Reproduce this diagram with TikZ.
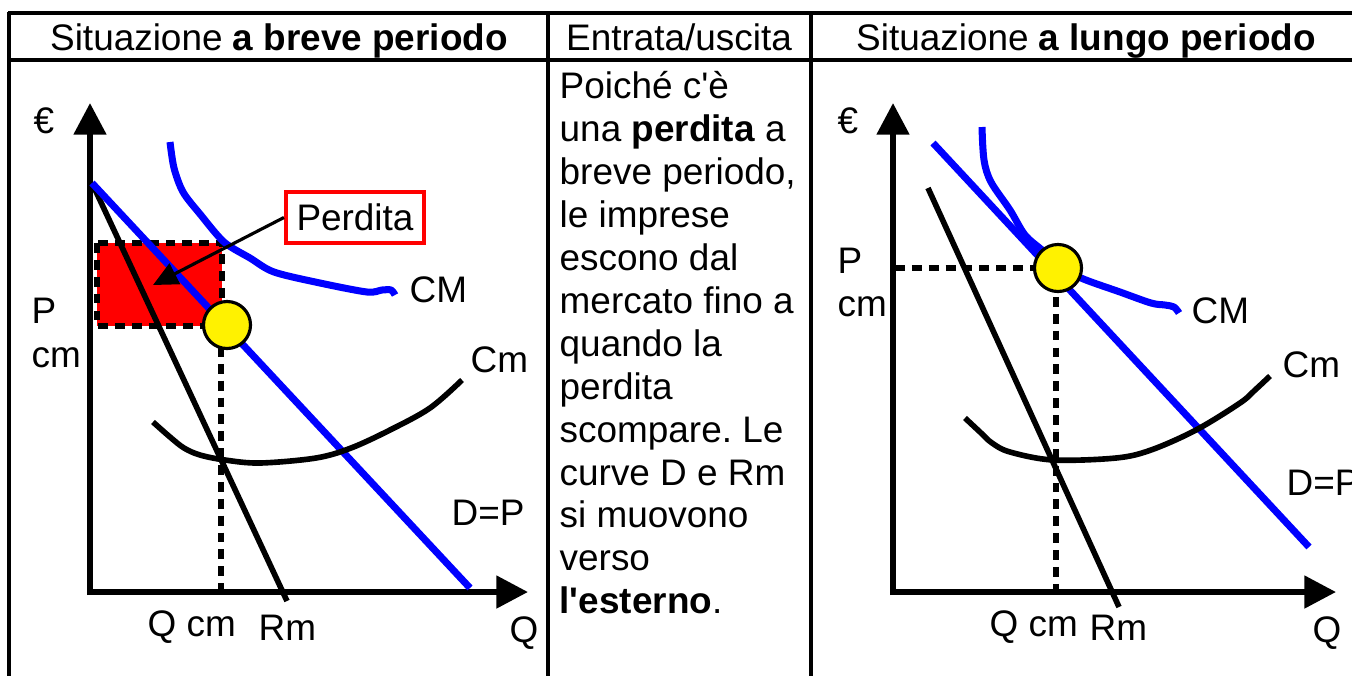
\documentclass[tikz,border=0pt]{standalone}
\usepackage{fontspec}
\setmainfont{Liberation Sans}
\usetikzlibrary{arrows.meta}
\begin{document}
\frenchspacing
\begin{tikzpicture}[x=0.01cm,y=-0.01cm,
  every node/.style={font=\fontsize{10.5pt}{12.2pt}\selectfont, inner sep=0pt},
  lbl/.style={anchor=base west},
  gridthin/.style={line width=0.9pt, black},
  gridthick/.style={line width=1.3pt, black},
  axis/.style={line width=1.7pt, -{Triangle[length=9pt,width=9pt]}},
  blueline/.style={blue, line width=2pt, line join=round},
  blackline/.style={black, line width=1.6pt, line join=round},
  guide/.style={draw=black, line width=1.8pt, dash pattern=on 2.8pt off 2pt},
  eq/.style={circle, draw=black, fill=yellow, line width=0.9pt, minimum size=0.47cm},
  lossbox/.style={draw=red, line width=1.15pt, minimum width=1.38cm, minimum height=0.51cm}
]
\useasboundingbox (0,0) rectangle (1352,675);
\clip (0,0) rectangle (1352,675);
\fill[white] (0,0) rectangle (1352,675);

% table
\draw[gridthin] (8,13) -- (1360,13);
\draw[gridthick] (8,60) -- (1360,60);
\draw[gridthin] (9,12) -- (9,680);
\draw[gridthick] (548,12) -- (548,680);
\draw[gridthick] (811,12) -- (811,680);

\node[anchor=base] (h1) at (279,50) {Situazione \textbf{a breve periodo}};
\node[anchor=base] (h2) at (679,50) {Entrata/uscita};
\node[anchor=base] (h3) at (1086,50) {Situazione \textbf{a lungo periodo}};

\node[anchor=north west, align=left] (txt) at (559,71) {Poiché c\textquotesingle è\\
una \textbf{perdita} a\\
breve periodo,\\
le imprese\\
escono dal\\
mercato fino a\\
quando la\\
perdita\\
scompare. Le\\
curve D e Rm\\
si muovono\\
verso\\
\textbf{l\textquotesingle esterno}.};

% ===== left chart =====
\fill[red] (97,243) rectangle (222,326);
\draw[guide] (97,243) rectangle (222,326);
\draw[axis] (90,595) -- (90,103);
\draw[axis] (87,592) -- (528,592);
\draw[blackline] (92,183) -- (287,601);
\draw[blueline] (92,183) -- (470,588);
\draw[blueline] plot[smooth, tension=0.5] coordinates {(170,142) (174,168) (183,192) (200,214) (224,242) (250,258) (274,272) (320,283) (367,292) (382,290) (391,290) (395,295)};
\draw[blackline] plot[smooth, tension=0.55] coordinates {(153,422) (170,437) (184,448) (200,455) (225,460) (260,463) (316,458) (351,448) (390,430) (430,408) (462,380)};
\draw[guide] (221,330) -- (221,590);
\node[lossbox] (loss) at (355,217.5) {Perdita};
\coordinate (losstip) at (153,285);
\draw[line width=0.9pt, -{Triangle[length=7pt,width=6.5pt]}] (loss.west) -- (losstip);
\node[eq] (e1) at (227,325) {};

\node[lbl] (eur1) at (33,133) {€};
\node[lbl] (p1) at (31,323) {P};
\node[lbl] (cm1) at (31,367) {cm};
\node[lbl] (CM1) at (409,302) {CM};
\node[lbl] (Cm1) at (470,372) {Cm};
\node[lbl] (dp1) at (451,525) {D=P};
\node[lbl] (qcm1) at (147,636) {Q cm};
\node[lbl] (rm1) at (258,640) {Rm};
\node[lbl] (q1) at (509,642) {Q};

% ===== right chart =====
\draw[axis] (893,595) -- (893,103);
\draw[axis] (890,592) -- (1336,592);
\draw[blackline] (928,188) -- (1119,607);
\draw[blueline] (933,143) -- (1309,547);
\draw[blueline] plot[smooth, tension=0.55] coordinates {(982,127) (984,160) (991,182) (1010,210) (1025,235) (1042,250) (1058,265) (1081,278) (1120,292) (1151,303) (1165,305) (1174,307) (1179,313)};
\draw[blackline] plot[smooth, tension=0.55] coordinates {(965,418) (980,432) (992,443) (1010,452) (1053,460) (1116,458) (1151,450) (1196,430) (1240,403) (1255,390) (1270,376)};
\draw[guide] (895,268) -- (1040,268);
\draw[guide] (1056,280) -- (1056,590);
\node[eq] (e2) at (1058,268) {};

\node[lbl] (eur2) at (837,133) {€};
\node[lbl] (p2) at (837,273) {P};
\node[lbl] (cm2) at (837,316) {cm};
\node[lbl] (CM2) at (1191,323) {CM};
\node[lbl] (Cm2) at (1282,377) {Cm};
\node[lbl] (dp2) at (1286,495) {D=P};
\node[lbl] (qcm2) at (989,636) {Q cm};
\node[lbl] (rm2) at (1089,640) {Rm};
\node[lbl] (q2) at (1312,642) {Q};
\end{tikzpicture}
\end{document}
